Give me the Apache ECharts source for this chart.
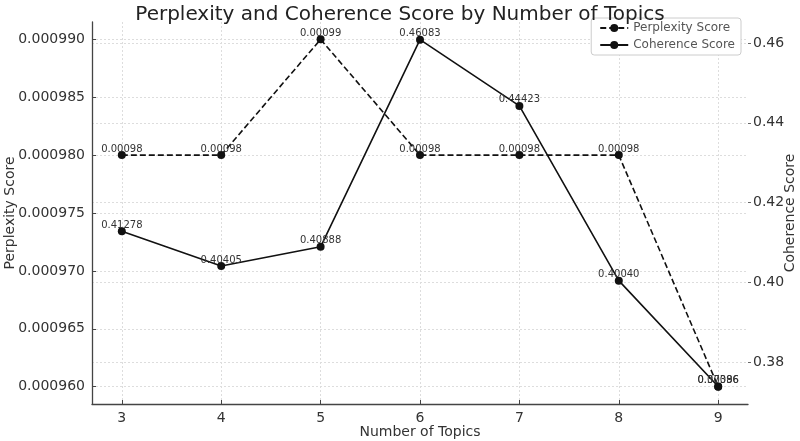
<!DOCTYPE html>
<html>
<head>
<meta charset="utf-8">
<script src="https://cdn.jsdelivr.net/npm/echarts@6/dist/echarts.min.js"></script>
<style>html,body{margin:0;padding:0;background:#fff}#c{width:800px;height:441px}</style>
</head>
<body>
<div id="c"></div>
<script>
const topics = [3, 4, 5, 6, 7, 8, 9];
const perplexity = [0.00098, 0.00098, 0.00099, 0.00098, 0.00098, 0.00098, 0.00096];
const coherence = [0.41278, 0.40405, 0.40888, 0.46083, 0.44423, 0.40040, 0.37386];
const perplexityTicks = [0.000960, 0.000965, 0.000970, 0.000975, 0.000980, 0.000985, 0.000990];
const coherenceTicks = [0.38, 0.40, 0.42, 0.44, 0.46];

const FONT = 'DejaVu Sans';
const chart = echarts.init(document.getElementById('c'));
const labelStyle = {show: true, position: 'top', distance: -3, fontSize: 10, color: '#333', fontFamily: FONT};
chart.setOption({
  animation: false,
  textStyle: {fontFamily: FONT},
  title: {text: 'Perplexity and Coherence Score by Number of Topics', left: 'center', top: 0,
    textStyle: {fontSize: 20, fontWeight: 'normal', color: '#222', fontFamily: FONT}},
  legend: {right: 59, top: 18, orient: 'vertical', itemGap: 5, itemWidth: 28, itemHeight: 10,
    borderColor: '#ccc', borderWidth: 1, borderRadius: 3, padding: [4, 6, 4, 8], backgroundColor: '#fff',
    textStyle: {fontSize: 12, color: '#555', fontFamily: FONT},
    data: ['Perplexity Score', 'Coherence Score']},
  grid: {left: 92, right: 52, top: 22, bottom: 37, outerBoundsMode: 'none', containLabel: false},
  xAxis: {type: 'value', min: 2.7, max: 9.3, name: 'Number of Topics', nameLocation: 'middle', nameGap: 21,
    nameMoveOverlap: false,
    nameTextStyle: {fontSize: 14, color: '#333'},
    axisLine: {show: true, lineStyle: {color: '#444', width: 1.3}},
    axisTick: {show: true, inside: true, length: 4, customValues: topics, lineStyle: {color: '#444'}},
    axisLabel: {customValues: topics, fontSize: 14, color: '#333', margin: 7},
    splitLine: {show: true, lineStyle: {color: '#ddd', type: [2, 2]}}},
  yAxis: [
    {type: 'value', position: 'left', min: 0.0009585, max: 0.0009915, name: 'Perplexity Score',
      nameLocation: 'middle', nameGap: 75, nameRotate: 90, nameMoveOverlap: false,
      nameTextStyle: {fontSize: 14, color: '#333'},
      axisLine: {show: true, lineStyle: {color: '#444', width: 1.3}},
      axisTick: {show: true, inside: true, length: 4, customValues: perplexityTicks, lineStyle: {color: '#444'}},
      axisLabel: {customValues: perplexityTicks, fontSize: 14, color: '#333', margin: 7, formatter: v => v.toFixed(6)},
      splitLine: {show: true, lineStyle: {color: '#ddd', type: [2, 2]}}},
    {type: 'value', position: 'right', min: 0.36946, max: 0.46527, name: 'Coherence Score',
      nameLocation: 'middle', nameGap: 35, nameRotate: 90, nameMoveOverlap: false,
      nameTextStyle: {fontSize: 14, color: '#333'},
      axisLine: {show: false},
      axisTick: {show: true, length: 3, customValues: coherenceTicks, lineStyle: {color: '#666'}},
      axisLabel: {customValues: coherenceTicks, fontSize: 14, color: '#333', margin: 5, formatter: v => v.toFixed(2)},
      splitLine: {show: true, lineStyle: {color: '#ddd', type: [2, 2]}}}
  ],
  series: [
    {name: 'Perplexity Score', type: 'line', yAxisIndex: 0,
      data: topics.map((t, i) => [t, perplexity[i]]),
      symbol: 'circle', symbolSize: 8, itemStyle: {color: '#111'},
      lineStyle: {color: '#111', width: 1.6, type: [6, 3]},
      label: Object.assign({}, labelStyle, {formatter: p => p.value[1].toFixed(5)})},
    {name: 'Coherence Score', type: 'line', yAxisIndex: 1,
      data: topics.map((t, i) => [t, coherence[i]]),
      symbol: 'circle', symbolSize: 8, itemStyle: {color: '#111'},
      lineStyle: {color: '#111', width: 1.6, type: 'solid'},
      label: Object.assign({}, labelStyle, {formatter: p => p.value[1].toFixed(5)})}
  ]
});
</script>
</body>
</html>
